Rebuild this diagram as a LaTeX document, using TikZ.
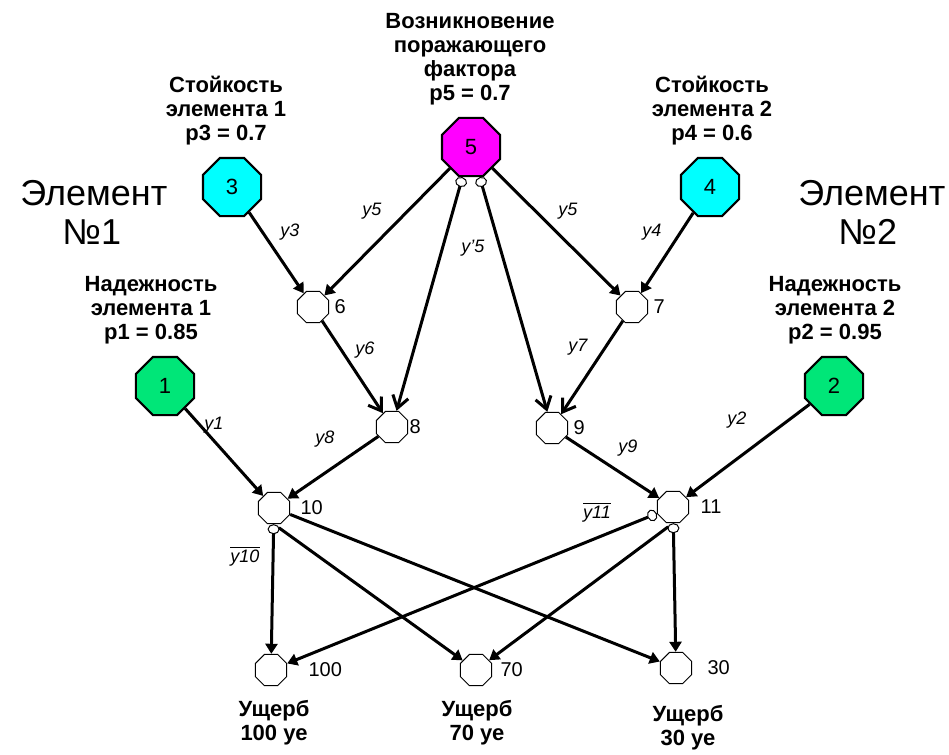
\documentclass[tikz,border=0pt]{standalone}
\usepackage{fontspec}
\setmainfont{Liberation Sans}
\usepackage{tikz}
\usetikzlibrary{shapes.geometric,arrows.meta}
\definecolor{nodecyan}{RGB}{0,255,255}
\definecolor{nodemagenta}{RGB}{255,0,255}
\definecolor{nodegreen}{RGB}{0,230,120}

\begin{document}
\begin{tikzpicture}[
    x=0.5pt, y=-0.5pt,
    bigstate/.style={regular polygon, regular polygon sides=8, draw, line width=1.1pt, minimum size=31.5pt, inner sep=0pt, font=\fontsize{11}{11}\selectfont},
    gate/.style={regular polygon, regular polygon sides=8, draw, line width=0.5pt, minimum size=17pt, inner sep=0pt, fill=white},
    desc/.style={font=\bfseries\fontsize{11}{12}\selectfont, align=center, inner sep=0pt},
    elem/.style={font=\fontsize{18}{19.5}\selectfont, align=left, inner sep=0pt, anchor=west},
    ylab/.style={font=\itshape\fontsize{9}{9}\selectfont, inner sep=0pt},
    nlab/.style={font=\fontsize{10}{10}\selectfont, inner sep=0pt},
    arrow/.style={-{Triangle[length=5pt,width=6pt]}, line width=1.5pt},
    negarrow/.style={{Circle[open,length=5pt,width=6pt,line width=0.5pt]}-{Triangle[length=5pt,width=6pt]}, line width=1.5pt},
    barb/.style={-{Straight Barb[length=6pt,width=8pt]}, line width=1.5pt},
    negbarb/.style={{Circle[open,length=5pt,width=6pt,line width=0.5pt]}-{Straight Barb[length=6pt,width=8pt]}, line width=1.5pt}
]
\useasboundingbox (0,0) rectangle (949,755);

% Source events
\node[bigstate, fill=nodecyan] (n3) at (232,187) {3};
\node[bigstate, fill=nodemagenta] (n5) at (471,147) {5};
\node[bigstate, fill=nodecyan] (n4) at (710,187) {4};
\node[bigstate, fill=nodegreen] (n1) at (165,386) {1};
\node[bigstate, fill=nodegreen] (n2) at (834,386) {2};

% Logic gates
\node[gate, label={[nlab, label distance=2.5pt]0:6}] (n6) at (313,307) {};
\node[gate, label={[nlab, label distance=2.5pt]0:7}] (n7) at (632,307) {};
\node[gate, label={[nlab, label distance=0.5pt]0:8}] (n8) at (392,427) {};
\node[gate, label={[nlab, label distance=2.5pt]0:9}] (n9) at (552,428) {};
\node[gate, label={[nlab, label distance=5pt]0:10}] (n10) at (274,508) {};
\node[gate, label={[nlab, label distance=5.5pt]0:11}] (n11) at (673,507) {};

% Damage outcomes
\node[gate, label={[nlab, label distance=10.5pt]0:100}] (n100) at (271,670) {};
\node[gate, label={[nlab, label distance=4pt]0:70}] (n70) at (476,670) {};
\node[gate, label={[nlab, label distance=7.5pt]0:30}] (n30) at (676,668) {};

% Arrows
\draw[arrow] (n3) -- (n6);
\draw[arrow] (n5) -- (n6);
\draw[arrow] (n5) -- (n7);
\draw[arrow] (n4) -- (n7);
\draw[barb] (n6) -- (n8);
\draw[negbarb] (n5) -- (n8);
\draw[negbarb] (n5) -- (n9);
\draw[barb] (n7) -- (n9);
\draw[arrow] (n1) -- (n10);
\draw[arrow] (n8) -- (n10);
\draw[arrow] (n9) -- (n11);
\draw[arrow] (n2) -- (n11);
\draw[negarrow] (n10) -- (n100);
\draw[arrow, shorten <=3pt] (n10.south) -- (n70);
\draw[arrow] (n10) -- (n30);
\draw[negarrow] (n11) -- (n100);
\draw[arrow, shorten <=3pt] (n11.south) -- (n70);
\draw[negarrow] (n11) -- (n30);

% Signal names
\node[ylab] (l3) at (290,232) {y3};
\node[ylab] (l5a) at (372,211) {y5};
\node[ylab] (l5b) at (473,248) {y'5};
\node[ylab] (l5c) at (568,211) {y5};
\node[ylab] (l4) at (652,232) {y4};
\node[ylab] (l6) at (365,350) {y6};
\node[ylab] (l7) at (578,347) {y7};
\node[ylab] (l1) at (214,425) {y1};
\node[ylab] (l8) at (325,439) {y8};
\node[ylab] (l9) at (628,448) {y9};
\node[ylab] (l2) at (737,420) {y2};
\node[ylab] (l10) at (245,556) {$\overline{\mbox{y10}}$};
\node[ylab] (l11) at (597,512) {$\overline{\mbox{y11}}$};

% Descriptions
\node[desc] (t3) at (226,111) {Стойкость\\элемента 1\\p3 = 0.7};
\node[desc] (t4) at (712,111) {Стойкость\\элемента 2\\p4 = 0.6};
\node[desc] (t5) at (470,59) {Возникновение\\поражающего\\фактора\\p5 = 0.7};
\node[desc] (t1) at (151,310) {Надежность\\элемента 1\\p1 = 0.85};
\node[desc] (t2) at (835,310) {Надежность\\элемента 2\\p2 = 0.95};
\node[desc] (d100) at (274,723) {Ущерб\\100 уе};
\node[desc] (d70) at (477,723) {Ущерб\\70 уе};
\node[desc] (d30) at (688,728) {Ущерб\\30 уе};
\node[elem] (e1) at (20,212) {Элемент\\\hspace*{21pt}№1};
\node[elem] (e2) at (798,212) {Элемент\\\hspace*{20pt}№2};
\end{tikzpicture}
\end{document}
